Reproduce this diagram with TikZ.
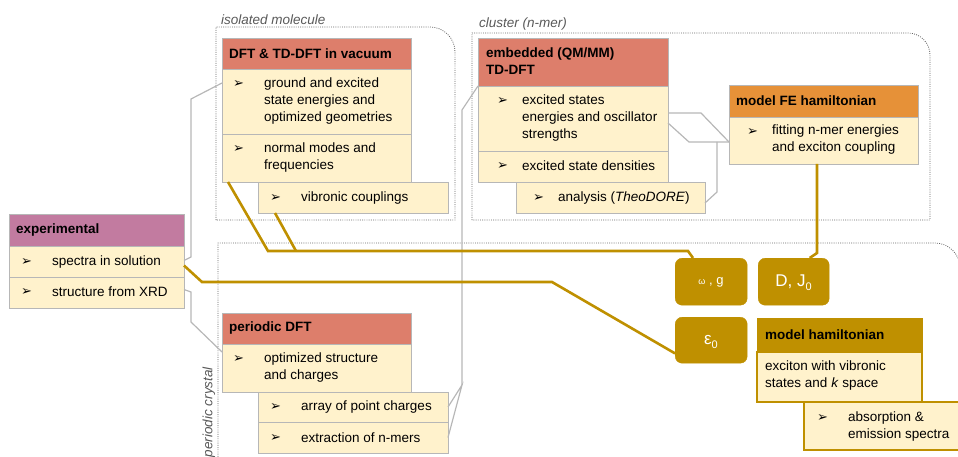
\documentclass[tikz,border=0pt]{standalone}
\usepackage{fontspec}
\setmainfont{Liberation Sans}
\newfontfamily\dvs{DejaVu Sans}
\definecolor{salmon}{HTML}{DD7E6B}
\definecolor{magent}{HTML}{C27BA0}
\definecolor{cream}{HTML}{FFF2CC}
\definecolor{orng}{HTML}{E69138}
\definecolor{gold}{HTML}{BF9000}
\definecolor{bordgray}{HTML}{B7B7B7}
\definecolor{congray}{HTML}{B7B7B7}
\definecolor{dotgray}{HTML}{666666}
\definecolor{labgray}{HTML}{595959}
\begin{document}
\begin{tikzpicture}[x=1pt,y=-1pt,
  box/.style={draw=bordgray, line width=0.9pt, anchor=north west, inner sep=0pt, outer sep=0pt, rectangle},
  hdr/.style={box, fill=salmon},
  itm/.style={box, fill=cream},
  txt/.style={anchor=west, inner sep=0pt, align=left, font=\fontsize{13.5}{17}\selectfont, text=black},
  htxt/.style={anchor=west, inner sep=0pt, align=left, font=\bfseries\fontsize{13.5}{17}\selectfont, text=black},
  bul/.style={anchor=west, inner sep=0pt, font=\dvs\fontsize{13}{14}\selectfont},
  lbl/.style={anchor=west, inner sep=0pt, font=\itshape\fontsize{13.5}{16}\selectfont, text=labgray},
  gline/.style={draw=congray, line width=1.2pt},
  auline/.style={draw=gold, line width=2.6pt},
  cont/.style={draw=dotgray, line width=0.8pt, dash pattern=on 0.9pt off 1.3pt},
  param/.style={fill=gold, draw=gold, rounded corners=7pt, anchor=north west, inner sep=0pt, text=white}
]
\useasboundingbox (0,0) rectangle (958,457);
\clip (0,0) rectangle (958,457);

% containers
\draw[cont] (216,220) -- (216,27) -- (430,27) arc[start angle=-90, end angle=0, radius=25] -- (455,220) -- cycle;
\draw[cont] (472,220) -- (472,33) -- (908,33) arc[start angle=-90, end angle=0, radius=22] -- (930,220) -- cycle;
\draw[cont] (218,470) -- (218,243) -- (935,243) arc[start angle=-90, end angle=0, radius=25] -- (960,470);
\node[lbl] (lbiso) at (221,20) {isolated molecule};
\node[lbl] (lbclu) at (479,24) {cluster (n-mer)};
\node[lbl, rotate=90, anchor=center] (lbper) at (209,412) {periodic crystal};

% DFT & TD-DFT in vacuum
\node[hdr, minimum width=189pt, minimum height=31pt] (dftH) at (222,38) {};
\node[itm, minimum width=189pt, minimum height=65pt] (dftA) at (222,69) {};
\node[itm, minimum width=189pt, minimum height=48pt] (dftB) at (222,134) {};
\node[itm, minimum width=190pt, minimum height=31pt] (vib) at (258,182) {};
\node[htxt] (dftHt) at (229,53.5) {DFT \& TD-DFT in vacuum};
\node[bul] (dftAb) at (233,84) {➢};
\node[txt] (dftAt) at (264,101) {ground and excited\\state energies and\\optimized geometries};
\node[bul] (dftBb) at (233,149) {➢};
\node[txt] (dftBt) at (264,157.5) {normal modes and\\frequencies};
\node[bul] (vibb) at (270,198) {➢};
\node[txt] (vibt) at (301,198) {vibronic couplings};

% embedded
\node[hdr, minimum width=190pt, minimum height=48pt] (embH) at (478,38) {};
\node[itm, minimum width=190pt, minimum height=65pt] (embA) at (478,86) {};
\node[itm, minimum width=190pt, minimum height=31pt] (embB) at (478,151) {};
\node[itm, minimum width=189pt, minimum height=31pt] (ana) at (516,182) {};
\node[htxt] (embHt) at (486,61.5) {embedded (QM/MM)\\TD-DFT};
\node[bul] (embAb) at (497,101) {➢};
\node[txt] (embAt) at (522,118) {excited states\\energies and oscillator\\strengths};
\node[bul] (embBb) at (497,166) {➢};
\node[txt] (embBt) at (522,166) {excited state densities};
\node[bul] (anab) at (533,198) {➢};
\node[txt] (anat) at (558,198) {analysis (\textit{TheoDORE})};

% model FE hamiltonian
\node[box, fill=orng, minimum width=189pt, minimum height=32pt] (feH) at (729,85) {};
\node[itm, minimum width=189pt, minimum height=47pt] (feA) at (729,117) {};
\node[htxt] (feHt) at (736,100.5) {model FE hamiltonian};
\node[bul] (feAb) at (747,132) {➢};
\node[txt] (feAt) at (772,140) {fitting n-mer energies\\and exciton coupling};

% experimental
\node[box, fill=magent, minimum width=175pt, minimum height=32pt] (expH) at (9,214) {};
\node[itm, minimum width=175pt, minimum height=31pt] (expA) at (9,246) {};
\node[itm, minimum width=175pt, minimum height=31pt] (expB) at (9,277) {};
\node[htxt] (expHt) at (16,230) {experimental};
\node[bul] (expAb) at (21,262) {➢};
\node[txt] (expAt) at (52,262) {spectra in solution};
\node[bul] (expBb) at (21,292) {➢};
\node[txt] (expBt) at (52,292) {structure from XRD};

% periodic DFT
\node[hdr, minimum width=189pt, minimum height=31pt] (pdH) at (222,313) {};
\node[itm, minimum width=189pt, minimum height=48pt] (pdA) at (222,344) {};
\node[itm, minimum width=190pt, minimum height=30pt] (arrA) at (258,392) {};
\node[itm, minimum width=190pt, minimum height=31pt] (arrB) at (258,422) {};
\node[htxt] (pdHt) at (229,328.5) {periodic DFT};
\node[bul] (pdAb) at (233,359) {➢};
\node[txt] (pdAt) at (264,367.5) {optimized structure\\and charges};
\node[bul] (arrAb) at (270,407) {➢};
\node[txt] (arrAt) at (301,407) {array of point charges};
\node[bul] (arrBb) at (270,438) {➢};
\node[txt] (arrBt) at (301,438) {extraction of n-mers};

% parameters
\node[param, minimum width=72pt, minimum height=47pt] (omega) at (675,258) {};
\node[text=white, font=\fontsize{13}{15}\selectfont, inner sep=0pt] (omegat) at (711,282) {{\fontsize{9}{10}\selectfont ω} , g};
\node[param, minimum width=71pt, minimum height=47pt] (DJ) at (758,258) {};
\node[text=white, font=\fontsize{17}{19}\selectfont, inner sep=0pt] (DJt) at (793.5,283) {D, J\raisebox{-4pt}{\fontsize{11}{12}\selectfont 0}};
\node[param, minimum width=72pt, minimum height=46pt] (eps) at (675,317) {};
\node[text=white, font=\fontsize{17}{19}\selectfont, inner sep=0pt] (epst) at (711,342) {ε\raisebox{-4pt}{\fontsize{11}{12}\selectfont 0}};

% model hamiltonian
\node[box, draw=gold, fill=gold, minimum width=165pt, minimum height=34pt] (mhH) at (757,318) {};
\node[box, draw=gold, fill=cream, line width=1.5pt, minimum width=165pt, minimum height=50pt] (mhA) at (757,352) {};
\node[box, draw=gold, fill=cream, line width=1.5pt, minimum width=160pt, minimum height=48pt] (abs) at (804,402) {};
\node[htxt] (mhHt) at (765,334.5) {model hamiltonian};
\node[txt] (mhAt) at (765,375.5) {exciton with vibronic\\states and \textit{k} space};
\node[bul] (absb) at (817,418) {➢};
\node[txt] (abst) at (848,426.5) {absorption \&\\emission spectra};

% gray connectors
\coordinate (j1) at (462,385);
\draw[gline] ([yshift=1pt]expA.east) -- (191,257) -- (191,99) -- ([yshift=-14pt]dftA.north west);
\draw[gline] ([yshift=3pt]expB.east) -- (191,292) -- (191,322) -- ([yshift=-8pt]pdA.north west);
\draw[gline] (arrA.east) -- (j1) -- (arrB.east);
\draw[gline] (j1) -- (462,110) -- (embA.north west);
\draw[gline] ([yshift=-27pt]embA.north east) -- (701,113) -- ([yshift=-25pt]feA.north west);
\draw[gline] ([yshift=-37pt]embA.north east) -- (689,142) -- ([yshift=-25pt]feA.north west);
\draw[gline] ([yshift=-5.5pt]ana.east) -- (717,192) -- (717,142);

% gold connectors
\draw[auline] ([xshift=6pt]dftB.south west) -- (268,251) -- (688,251) -- ([xshift=18pt]omega.north west);
\draw[auline] ([xshift=17pt]vib.south west) -- (296,251);
\draw[auline] ([yshift=-4pt]expA.east) -- (202,282) -- (552,282) -- ([yshift=10pt]eps.south west);
\draw[auline] ([xshift=-6.5pt]feA.south) -- (817,253) -- ([xshift=16pt]DJ.north);
\end{tikzpicture}
\end{document}
